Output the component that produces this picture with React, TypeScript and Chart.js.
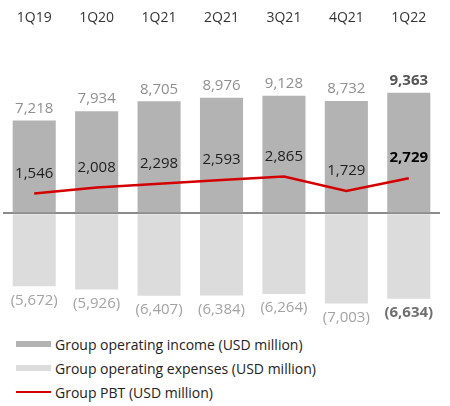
import React, { useEffect, useRef } from "react";
import { Chart, registerables } from "chart.js";

Chart.register(...registerables);

const categories = ["1Q19", "1Q20", "1Q21", "2Q21", "3Q21", "4Q21", "1Q22"];
const operatingIncome = [7218, 7934, 8705, 8976, 9128, 8732, 9363];
const operatingExpenses = [-5672, -5926, -6407, -6384, -6264, -7003, -6634];
const groupPbt = [1546, 2008, 2298, 2593, 2865, 1729, 2729];

const legendItems = [
    { label: "Group operating income (USD million)", kind: "bar", color: "#b3b3b3" },
    { label: "Group operating expenses (USD million)", kind: "bar", color: "#dcdcdc" },
    { label: "Group PBT (USD million)", kind: "line", color: "#d40000" },
];

const FONT = "'Open Sans', 'DejaVu Sans', sans-serif";

const fmt = (v: number) => {
    const s = Math.abs(v).toLocaleString("en-US");
    return v < 0 ? "(" + s + ")" : s;
};

// draws the numbers above / below the bars and above the PBT line
const valueLabels = {
    id: "valueLabels",
    afterDatasetsDraw(chart: any) {
        const ctx = chart.ctx;
        const last = categories.length - 1;
        ctx.save();
        ctx.textAlign = "center";
        ctx.textBaseline = "middle";
        chart.data.datasets.forEach((ds: any, di: number) => {
            const meta = chart.getDatasetMeta(di);
            meta.data.forEach((el: any, i: number) => {
                const bold = i === last;
                let y = el.y;
                let color = "#8f8f8f";
                if (di === 0) {
                    y = el.y - 12;
                    color = bold ? "#555555" : "#8f8f8f";
                } else if (di === 1) {
                    y = el.y + 14;
                    color = bold ? "#6f6f6f" : "#a3a3a3";
                } else {
                    y = el.y - 20;
                    color = bold ? "#000000" : "#1e1e1e";
                }
                ctx.font = (bold ? "bold " : "") + "15px " + FONT;
                ctx.fillStyle = color;
                ctx.fillText(fmt(ds.data[i]), el.x, y);
            });
        });
        ctx.restore();
    },
};

const App: React.FC = () => {
    const chartRef = useRef<HTMLCanvasElement | null>(null);
    const chartInstance = useRef<Chart | null>(null);

    useEffect(() => {
        document.body.style.margin = "0";
        if (chartRef.current !== null) {
            const ctx = chartRef.current.getContext("2d");
            if (ctx !== null) {
                chartInstance.current = new Chart(ctx, {
                    type: "bar",
                    data: {
                        labels: categories,
                        datasets: [
                            {
                                type: "bar",
                                data: operatingIncome,
                                backgroundColor: "#b3b3b3",
                                categoryPercentage: 1,
                                barPercentage: 0.69,
                                grouped: false,
                                order: 2,
                            },
                            {
                                type: "bar",
                                data: operatingExpenses,
                                backgroundColor: "#dcdcdc",
                                categoryPercentage: 1,
                                barPercentage: 0.69,
                                grouped: false,
                                order: 3,
                            },
                            {
                                type: "line",
                                data: groupPbt,
                                borderColor: "#d40000",
                                borderWidth: 2.5,
                                pointRadius: 0,
                                tension: 0,
                                order: 1,
                            },
                        ] as any,
                    },
                    options: {
                        animation: false,
                        responsive: false,
                        devicePixelRatio: 1,
                        layout: { padding: { left: 3, right: 10, top: 8, bottom: 5 } },
                        plugins: {
                            legend: { display: false },
                            tooltip: { enabled: false },
                        },
                        scales: {
                            x: {
                                position: "top",
                                grid: { display: false, drawTicks: false },
                                border: { display: false },
                                ticks: {
                                    padding: 15,
                                    color: "#333333",
                                    font: { family: FONT, size: 14 },
                                },
                            },
                            y: {
                                min: -8680,
                                max: 13330,
                                z: 1, // zero line over the bars
                                border: { display: false },
                                grid: {
                                    drawTicks: false,
                                    lineWidth: 2,
                                    color: (c: any) => (c.tick && c.tick.value === 0 ? "#8c8c8c" : "rgba(0,0,0,0)"),
                                },
                                ticks: { display: false },
                                afterBuildTicks: (axis: any) => {
                                    axis.ticks = [{ value: 0 }];
                                },
                            },
                        },
                    },
                    plugins: [valueLabels],
                });
            }
        }

        return () => {
            if (chartInstance.current !== null) {
                chartInstance.current.destroy();
            }
        };
    }, []);

    return (
        <div style={{ width: 450, fontFamily: FONT }}>
            <canvas ref={chartRef} width={450} height={343} style={{ display: "block", marginTop: -13 }}></canvas>
            <div style={{ marginTop: 2, paddingLeft: 16 }}>
                {legendItems.map((item) => (
                    <div key={item.label} style={{ display: "flex", alignItems: "center", height: 24 }}>
                        <span
                            style={{
                                display: "inline-block",
                                width: 35,
                                height: item.kind === "line" ? 2 : 6,
                                background: item.color,
                                marginRight: 4,
                            }}
                        ></span>
                        <span style={{ fontSize: 14, color: "#222222" }}>{item.label}</span>
                    </div>
                ))}
            </div>
        </div>
    );
};

export default App;
